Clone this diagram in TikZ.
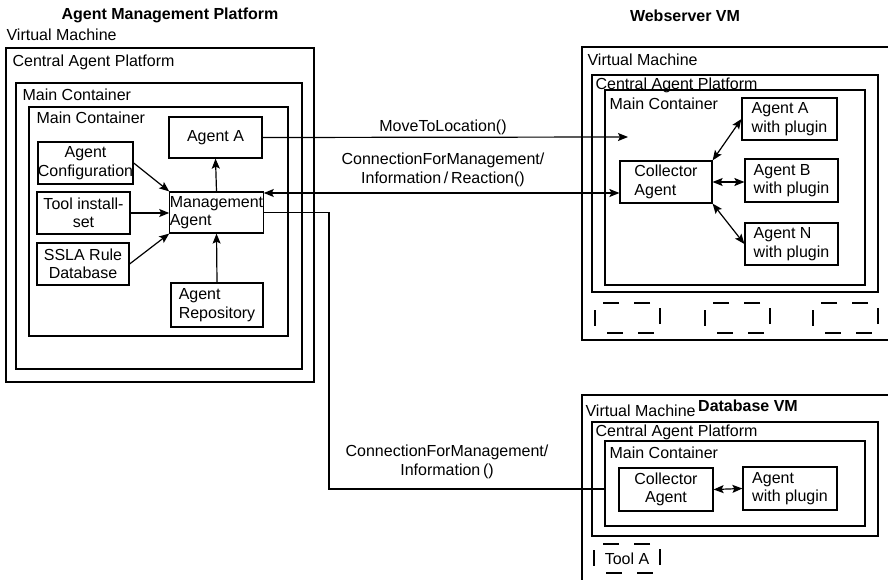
\documentclass[tikz,border=0pt]{standalone}
\usepackage{fontspec}
\setmainfont{Liberation Sans}
\usetikzlibrary{arrows.meta}
\begin{document}
\begin{tikzpicture}[x=1pt, y=-1pt, line width=1.2pt,
  font=\fontsize{16}{18.5}\selectfont,
  box/.style={draw, inner sep=0pt, align=center},
  lbl/.style={inner sep=0pt, anchor=west},
  ttl/.style={inner sep=0pt, font=\fontsize{16}{18.5}\selectfont\bfseries},
  dashbox/.style={draw, dash pattern=on 16pt off 15pt, dash phase=19pt},
  tip/.style={-{Stealth[length=10pt,width=8pt,inset=2pt]}},
  dtip/.style={{Stealth[length=10pt,width=8pt,inset=2pt]}-{Stealth[length=10pt,width=8pt,inset=2pt]}}]
\useasboundingbox (0,0) rectangle (888,580);
\clip (0,0) rectangle (888,580);
\node[ttl] (amp) at (170,15) {Agent Management Platform};
\node[lbl] (vmTxtL) at (6,35) {Virtual Machine};
\node[box, minimum width=308pt, minimum height=334pt] (vmL) at (160,215) {};
\node[lbl] (capTxtL) at (12,62) {Central Agent Platform};
\node[box, minimum width=286pt, minimum height=286pt] (capL) at (159,226) {};
\node[lbl] (mcTxtL) at (22,95) {Main Container};
\node[box, minimum width=259pt, minimum height=229pt] (mcL) at (158.5,221.5) {};
\node[lbl] (mcTxtL2) at (36,118) {Main Container};
\node[box, minimum width=93pt, minimum height=41pt] (agentA) at (215.5,137.5) {Agent A};
\node[box, minimum width=93pt, minimum height=42pt] (agentConf) at (85.5,163) {Agent\\Configuration};
\node[box, minimum width=93pt, minimum height=42pt] (toolSet) at (83.5,213) {Tool install-\\set};
\node[box, minimum width=92pt, minimum height=42pt] (sslaDb) at (83,264) {SSLA Rule\\Database};
\node[box, align=left, minimum width=93pt, minimum height=41pt] (mgmtAgent) at (216.5,212.5) {Management\\Agent};
\node[box, align=left, minimum width=92pt, minimum height=44pt] (agentRepo) at (217,305) {Agent\\Repository};
\draw[tip] (agentConf.east) -- (mgmtAgent.north west);
\draw[tip] (toolSet.east) -- (mgmtAgent.west |- toolSet.east);
\draw[tip] (sslaDb.east) -- (mgmtAgent.south west);
\draw[tip] (mgmtAgent.north) -- (agentA.south);
\draw[tip] (agentRepo.north) -- (mgmtAgent.south);
\node[ttl] (wsv) at (685,16) {Webserver VM};
\node[lbl] (vmTxtW) at (587,60) {Virtual Machine};
\node[box, minimum width=313pt, minimum height=293pt] (vmW) at (738.5,193.5) {};
\node[lbl] (capTxtW) at (595,85) {Central Agent Platform};
\node[box, minimum width=286pt, minimum height=217pt] (capW) at (735,183.5) {};
\node[box, minimum width=260pt, minimum height=195pt] (mcW) at (735,187.5) {};
\node[lbl] (mcTxtW) at (609,104) {Main Container};
\node[box, align=left, minimum width=95pt, minimum height=42pt] (agentAP) at (789.5,119) {Agent A\\with plugin};
\node[box, align=left, minimum width=93pt, minimum height=43pt] (agentBP) at (791.5,180.5) {Agent B\\with plugin};
\node[box, align=left, minimum width=93pt, minimum height=42pt] (agentNP) at (791.5,244) {Agent N\\with plugin};
\node[box, align=left, minimum width=92pt, minimum height=42pt] (collW) at (666,182) {Collector\\Agent};
\draw[dtip] (collW.north east) -- (agentAP.west);
\draw[dtip] (collW.east) -- (agentBP.west |- collW.east);
\draw[dtip] (collW.south east) -- (agentNP.west);
\node[dashbox, minimum width=65pt, minimum height=30pt] (slotA) at (627.5,318) {};
\node[dashbox, minimum width=65pt, minimum height=30pt] (slotB) at (737.5,318) {};
\node[dashbox, minimum width=65pt, minimum height=30pt] (slotC) at (845.5,318) {};
\node[lbl] (vmTxtD) at (585,411) {Virtual Machine};
\node[ttl] (dbv) at (748,406) {Database VM};
\node[box, minimum width=313pt, minimum height=205pt] (vmD) at (738.5,497.5) {};
\node[lbl] (capTxtD) at (595,432) {Central Agent Platform};
\node[box, minimum width=286pt, minimum height=114pt] (capD) at (735,479) {};
\node[lbl] (mcTxtD) at (609,453) {Main Container};
\node[box, minimum width=260pt, minimum height=85pt] (mcD) at (735,483.5) {};
\node[box, minimum width=94pt, minimum height=43pt] (collD) at (666,489.5) {Collector\\Agent};
\node[box, align=left, minimum width=94pt, minimum height=43pt] (agentD) at (790,488.5) {Agent\\with plugin};
\draw[dtip] (collD.east) -- (agentD.west);
\node[dashbox, minimum width=66pt, minimum height=29pt] (toolA) at (627,558.5) {Tool A};
\coordinate (mvEnd) at (628,137);
\coordinate (dbBend) at (329,489);
\draw[tip] (agentA.east) -- (mvEnd);
\draw[dtip] (mgmtAgent.east |- 0,193) -- (collW.west |- 0,193);
\draw (mgmtAgent.east) -| (dbBend) -- (mcD.west |- dbBend);
\node[inner sep=0pt] (mvLbl) at (443,127) {MoveToLocation()};
\node[inner sep=0pt, align=center] (cfmLbl) at (443,170) {ConnectionForManagement/\\Information\,/\,Reaction()};
\node[inner sep=0pt, align=center] (cfiLbl) at (447,462) {ConnectionForManagement/\\Information\,()};
\end{tikzpicture}
\end{document}
